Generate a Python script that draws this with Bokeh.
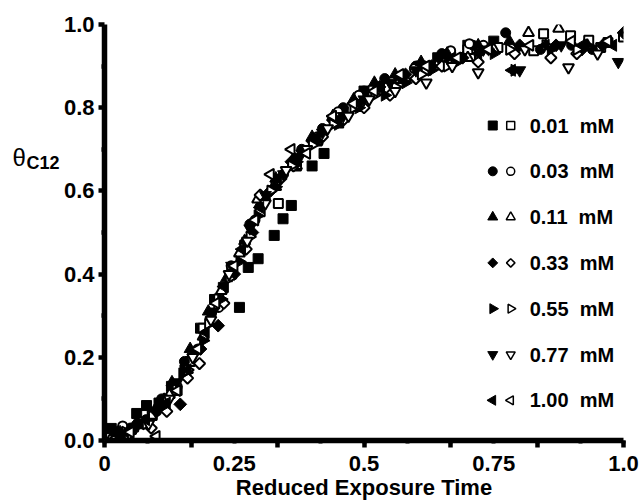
import math
from bokeh.plotting import figure
from bokeh.layouts import row
from bokeh.models import FixedTicker, PrintfTickFormatter, CustomJSTickFormatter
from bokeh.embed import file_html
from bokeh.resources import INLINE
from bokeh.core.properties import value

# ---------------- data ----------------
concentrations = ["0.01", "0.03", "0.11", "0.33", "0.55", "0.77", "1.00"]

c001_filled_x = [0.013, 0.035, 0.062, 0.081, 0.105, 0.129, 0.155, 0.185, 0.212, 0.229, 0.26, 0.277, 0.296, 0.327, 0.344, 0.36, 0.40, 0.423, 0.46, 0.50, 0.571, 0.61, 0.642, 0.70, 0.75]
c001_filled_y = [0.029, 0.02, 0.065, 0.084, 0.09, 0.13, 0.17, 0.27, 0.339, 0.368, 0.32, 0.416, 0.437, 0.493, 0.533, 0.565, 0.66, 0.69, 0.79, 0.84, 0.873, 0.90, 0.92, 0.95, 0.96]
c001_open_x = [0.02, 0.045, 0.07, 0.092, 0.115, 0.14, 0.165, 0.19, 0.22, 0.245, 0.27, 0.30, 0.335, 0.37, 0.41, 0.45, 0.49, 0.53, 0.57, 0.62, 0.66, 0.70, 0.758, 0.827, 0.846, 0.898, 0.933, 0.956, 0.97, 1.0]
c001_open_y = [0.01, 0.02, 0.04, 0.06, 0.085, 0.12, 0.19, 0.27, 0.34, 0.40, 0.47, 0.55, 0.57, 0.66, 0.72, 0.77, 0.81, 0.85, 0.87, 0.89, 0.91, 0.94, 0.945, 0.937, 0.978, 0.973, 0.962, 0.945, 0.957, 0.97]

c003_filled_x = [0.02, 0.05, 0.08, 0.11, 0.154, 0.206, 0.245, 0.28, 0.31, 0.345, 0.38, 0.42, 0.46, 0.50, 0.54, 0.60, 0.65, 0.71, 0.773, 0.84, 0.90, 0.94]
c003_filled_y = [0.01, 0.03, 0.05, 0.10, 0.19, 0.305, 0.415, 0.52, 0.58, 0.64, 0.70, 0.75, 0.80, 0.84, 0.87, 0.90, 0.93, 0.95, 0.98, 0.94, 0.95, 0.94]
c003_open_x = [0.035, 0.07, 0.10, 0.14, 0.18, 0.22, 0.244, 0.29, 0.33, 0.37, 0.41, 0.45, 0.49, 0.523, 0.597, 0.667, 0.703, 0.73]
c003_open_y = [0.035, 0.045, 0.07, 0.13, 0.22, 0.32, 0.42, 0.53, 0.62, 0.67, 0.73, 0.79, 0.83, 0.84, 0.894, 0.937, 0.954, 0.95]

c011_filled_x = [0.03, 0.06, 0.10, 0.13, 0.165, 0.20, 0.235, 0.27, 0.30, 0.33, 0.365, 0.40, 0.44, 0.48, 0.52, 0.56, 0.61, 0.66, 0.72, 0.78, 0.85]
c011_filled_y = [0.02, 0.04, 0.08, 0.14, 0.22, 0.31, 0.39, 0.48, 0.57, 0.63, 0.68, 0.73, 0.78, 0.82, 0.86, 0.88, 0.91, 0.93, 0.95, 0.96, 0.95]
c011_open_x = [0.015, 0.055, 0.09, 0.125, 0.16, 0.19, 0.225, 0.26, 0.295, 0.33, 0.37, 0.41, 0.45, 0.49, 0.53, 0.58, 0.64, 0.70, 0.75, 0.817, 0.875, 0.93]
c011_open_y = [0.01, 0.03, 0.06, 0.11, 0.17, 0.25, 0.36, 0.45, 0.58, 0.61, 0.66, 0.72, 0.76, 0.80, 0.84, 0.87, 0.90, 0.92, 0.94, 0.98, 0.99, 0.95]

c033_filled_x = [0.025, 0.065, 0.10, 0.146, 0.185, 0.219, 0.25, 0.285, 0.32, 0.36, 0.40, 0.44, 0.48, 0.53, 0.58, 0.63, 0.69, 0.74, 0.80, 0.87, 0.92, 0.96, 1.0]
c033_filled_y = [0.02, 0.04, 0.07, 0.087, 0.22, 0.276, 0.40, 0.50, 0.60, 0.67, 0.72, 0.77, 0.81, 0.85, 0.88, 0.90, 0.92, 0.94, 0.95, 0.95, 0.94, 0.95, 0.98]
c033_open_x = [0.05, 0.09, 0.12, 0.16, 0.183, 0.23, 0.273, 0.30, 0.34, 0.364, 0.42, 0.46, 0.50, 0.55, 0.60, 0.65, 0.72, 0.79, 0.86, 0.91]
c033_open_y = [0.02, 0.03, 0.07, 0.15, 0.185, 0.33, 0.46, 0.59, 0.63, 0.66, 0.73, 0.77, 0.80, 0.83, 0.87, 0.90, 0.91, 0.93, 0.92, 0.93]

c055_filled_x = [0.03, 0.07, 0.11, 0.15, 0.19, 0.225, 0.26, 0.295, 0.33, 0.37, 0.41, 0.45, 0.49, 0.54, 0.58, 0.63, 0.68, 0.75, 0.79, 0.86, 0.93]
c055_filled_y = [0.01, 0.04, 0.08, 0.16, 0.24, 0.34, 0.43, 0.54, 0.61, 0.67, 0.72, 0.76, 0.80, 0.83, 0.86, 0.89, 0.91, 0.93, 0.89, 0.94, 0.95]
c055_open_x = [0.04, 0.08, 0.12, 0.16, 0.20, 0.24, 0.28, 0.32, 0.36, 0.40, 0.44, 0.48, 0.52, 0.56, 0.61, 0.66, 0.72, 0.78, 0.85, 0.91]
c055_open_y = [0.02, 0.04, 0.10, 0.17, 0.28, 0.39, 0.49, 0.60, 0.66, 0.71, 0.76, 0.80, 0.83, 0.85, 0.88, 0.90, 0.93, 0.94, 0.95, 0.94]

c077_filled_x = [0.02, 0.06, 0.10, 0.14, 0.175, 0.21, 0.245, 0.28, 0.31, 0.345, 0.38, 0.42, 0.46, 0.50, 0.55, 0.60, 0.66, 0.73, 0.80, 0.88, 0.99]
c077_filled_y = [0.01, 0.03, 0.07, 0.14, 0.21, 0.31, 0.42, 0.51, 0.59, 0.64, 0.69, 0.74, 0.78, 0.82, 0.86, 0.89, 0.92, 0.94, 0.89, 0.95, 0.91]
c077_open_x = [0.045, 0.085, 0.125, 0.17, 0.205, 0.24, 0.275, 0.31, 0.35, 0.39, 0.43, 0.47, 0.51, 0.56, 0.62, 0.67, 0.72, 0.81, 0.894, 0.95]
c077_open_y = [0.01, 0.04, 0.10, 0.20, 0.29, 0.40, 0.48, 0.57, 0.65, 0.70, 0.75, 0.78, 0.82, 0.84, 0.86, 0.90, 0.885, 0.94, 0.897, 0.93]

c100_filled_x = [0.04, 0.08, 0.12, 0.16, 0.195, 0.23, 0.265, 0.30, 0.335, 0.37, 0.41, 0.45, 0.49, 0.53, 0.57, 0.62, 0.67, 0.72, 0.785, 0.85, 0.92, 0.98]
c100_filled_y = [0.02, 0.05, 0.09, 0.17, 0.26, 0.37, 0.46, 0.56, 0.63, 0.68, 0.73, 0.77, 0.81, 0.85, 0.87, 0.90, 0.92, 0.93, 0.89, 0.95, 0.95, 0.95]
c100_open_x = [0.015, 0.05, 0.10, 0.14, 0.18, 0.215, 0.25, 0.29, 0.32, 0.36, 0.39, 0.44, 0.48, 0.52, 0.57, 0.62, 0.68, 0.74, 0.82, 0.90, 0.97]
c100_open_y = [0.00, 0.02, 0.01, 0.12, 0.22, 0.33, 0.42, 0.53, 0.64, 0.70, 0.69, 0.78, 0.81, 0.84, 0.88, 0.90, 0.92, 0.94, 0.95, 0.96, 0.96]

filled_x = [c001_filled_x, c003_filled_x, c011_filled_x, c033_filled_x, c055_filled_x, c077_filled_x, c100_filled_x]
filled_y = [c001_filled_y, c003_filled_y, c011_filled_y, c033_filled_y, c055_filled_y, c077_filled_y, c100_filled_y]
open_x = [c001_open_x, c003_open_x, c011_open_x, c033_open_x, c055_open_x, c077_open_x, c100_open_x]
open_y = [c001_open_y, c003_open_y, c011_open_y, c033_open_y, c055_open_y, c077_open_y, c100_open_y]

x_tick_values = [k / 12 for k in range(13)]
x_long_ticks = [k / 6 for k in range(7)]
y_tick_values = [0.0, 0.2, 0.4, 0.6, 0.8, 1.0]
y_minor_ticks = [0.1, 0.3, 0.5, 0.7, 0.9]

x_title = "Reduced Exposure Time"
y_title_main = "\u03b8"
y_title_sub = "C12"

# ---------------- styling / layout ----------------
FONT = "Liberation Sans"
TOTAL_W, H = 639, 502
LEFT_W = 60                       # narrow strip holding the y title
W = TOTAL_W - LEFT_W              # main figure width
FL, FR, FT, FB = 43, 563, 24, 440  # main frame edges in main-canvas px

# (marker, angle, data size, legend size)
styles = [
    ("square", 0.0, 10, 9),
    ("circle", 0.0, 10, 9),
    ("triangle", 0.0, 12, 10),
    ("square", math.pi / 4, 9, 7),
    ("triangle", -math.pi / 2, 12, 10),
    ("inverted_triangle", 0.0, 12, 10),
    ("triangle", math.pi / 2, 12, 10),
]

def px_x(px):  # absolute page px -> data x
    return (px - LEFT_W - FL) / (FR - FL)

def px_y(py):  # page px -> data y
    return (FB - py) / (FB - FT)

p = figure(width=W, height=H, x_range=(0, 1), y_range=(0, 1),
           min_border_left=FL, min_border_right=W - FR,
           min_border_top=FT, min_border_bottom=H - FB,
           output_backend="svg", toolbar_location=None)
p.outline_line_color = None
p.xgrid.visible = False
p.ygrid.visible = False
p.background_fill_color = "white"
p.border_fill_color = "white"

for i in range(len(concentrations)):
    mk, ang, sz, _ = styles[i]
    p.scatter(filled_x[i], filled_y[i], marker=mk, angle=ang, size=sz,
              fill_color="black", line_color="black", line_width=1)
    p.scatter(open_x[i], open_y[i], marker=mk, angle=ang, size=sz - 1,
              fill_color="white", line_color="black", line_width=2)

# legend (manual, so that rotated markers keep their orientation)
leg_fill_px = 492
leg_open_px = 510
leg_text_px = 529
leg_row0_px = 125
leg_step_px = 45.8
for i, c in enumerate(concentrations):
    mk, ang, _, lsz = styles[i]
    yy = px_y(leg_row0_px + i * leg_step_px)
    p.scatter([px_x(leg_fill_px)], [yy], marker=mk, angle=ang, size=lsz,
              fill_color="black", line_color="black", line_width=1)
    p.scatter([px_x(leg_open_px)], [yy], marker=mk, angle=ang, size=lsz - 1,
              fill_color="white", line_color="black", line_width=1.5)
    p.text([px_x(leg_text_px)], [yy], text=[c + "\u00a0\u00a0mM"],
           text_font=value(FONT), text_font_size="20px", text_font_style="bold",
           text_baseline="middle", text_align="left", text_color="black")

# axes
for ax in (p.xaxis[0], p.yaxis[0]):
    ax.axis_line_color = "black"
    ax.axis_line_width = 5.5
    ax.major_tick_line_color = "black"
    ax.minor_tick_line_color = "black"
    ax.major_tick_in = 0
    ax.minor_tick_in = 0
    ax.major_label_text_font = FONT
    ax.major_label_text_font_size = "22px"
    ax.major_label_text_font_style = "bold"
    ax.major_label_text_color = "black"

xa = p.xaxis[0]
xa.ticker = FixedTicker(ticks=x_tick_values, minor_ticks=x_long_ticks)
xa.formatter = CustomJSTickFormatter(code="""
const q = tick * 4;
if (Math.abs(q - Math.round(q)) > 1e-6) return "";
const v = Math.round(q) / 4;
if (v === 0) return "0";
if (v === 1) return "1.0";
return String(v);
""")
xa.major_tick_out = 3
xa.major_tick_line_width = 4
xa.minor_tick_out = 7
xa.minor_tick_line_width = 4.5
xa.major_label_standoff = 8
xa.axis_label = x_title
xa.axis_label_text_font = FONT
xa.axis_label_text_font_size = "22px"
xa.axis_label_text_font_style = "bold"
xa.axis_label_text_color = "black"
xa.axis_label_standoff = 1

ya = p.yaxis[0]
ya.ticker = FixedTicker(ticks=y_tick_values, minor_ticks=y_minor_ticks)
ya.formatter = PrintfTickFormatter(format="%.1f")
ya.major_tick_out = 6
ya.major_tick_line_width = 4.5
ya.minor_tick_out = 3
ya.minor_tick_line_width = 4.5
ya.major_label_standoff = 4

# narrow strip on the left with the y-axis title (theta, subscript C12)
t = figure(width=LEFT_W, height=H, x_range=(0, LEFT_W), y_range=(H, 0),
           min_border=0, x_axis_location=None, y_axis_location=None,
           output_backend="svg", toolbar_location=None)
t.outline_line_color = None
t.xgrid.visible = False
t.ygrid.visible = False
t.border_fill_color = "white"
t.text([12], [161], text=[y_title_main], text_font=value(FONT),
       text_font_size="24px", text_font_style="normal",
       text_baseline="alphabetic", text_align="left", text_color="black")
t.text([26], [167], text=[y_title_sub], text_font=value(FONT),
       text_font_size="18px", text_font_style="bold",
       text_baseline="alphabetic", text_align="left", text_color="black")

layout = row(t, p, spacing=0)
open("out.html", "w").write(file_html(layout, INLINE))
